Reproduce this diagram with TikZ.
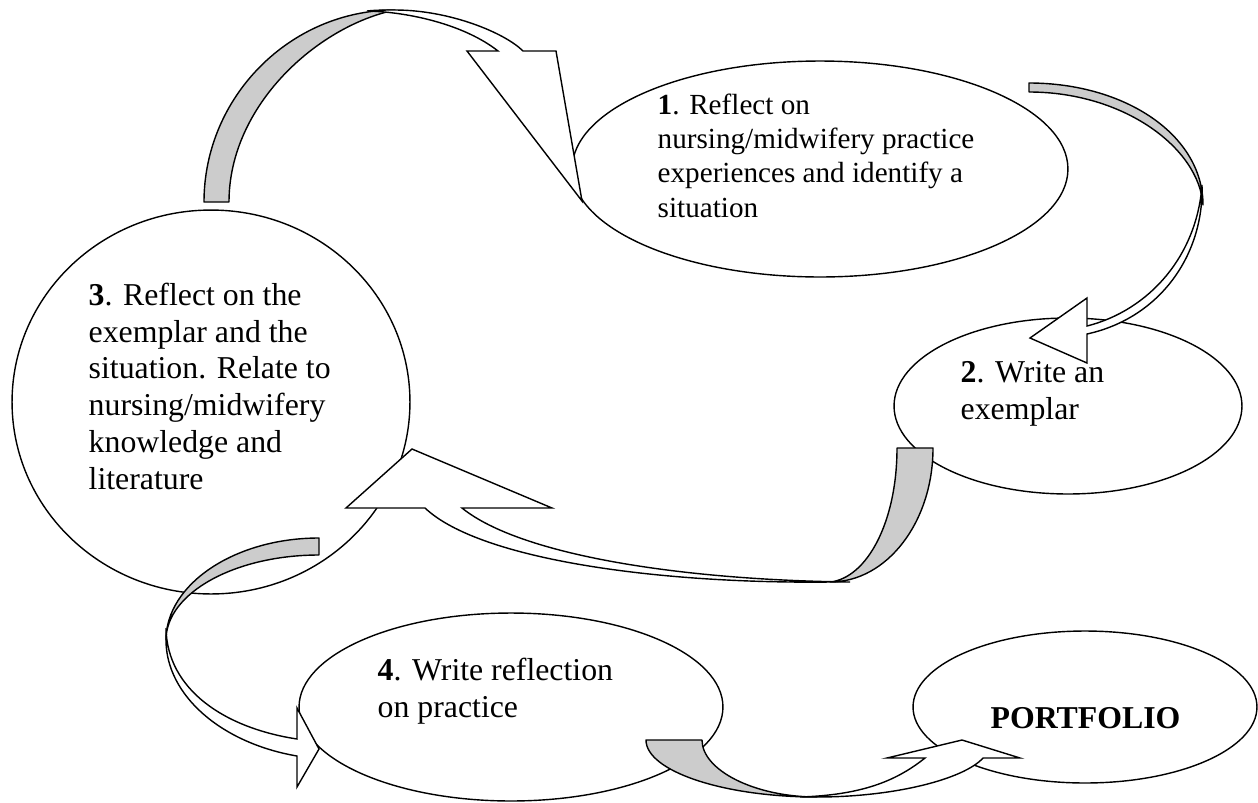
\documentclass[tikz,border=0pt]{standalone}
\usepackage{fontspec}
\setmainfont{Liberation Serif}
\usetikzlibrary{shapes.geometric}
\definecolor{ribbongrey}{HTML}{CCCCCC}

\begin{document}
\begin{tikzpicture}[x=0.02cm, y=-0.02cm, line width=0.8pt,
  stage/.style={ellipse, draw, fill=white, inner sep=0pt},
  stagetext/.style={anchor=base west, align=left, inner sep=0pt, font=\fontsize{18.1}{20.9}\selectfont},
  ribbonback/.style={draw, fill=ribbongrey, line join=round},
  ribbonfront/.style={draw, fill=white}]
\useasboundingbox (0,0) rectangle (1258,802);

% the five stages
\node[stage, minimum width=9.92cm, minimum height=4.32cm] (s1) at (820,169) {};
\node[stage, minimum width=6.96cm, minimum height=3.52cm] (s2) at (1068,406) {};
\node[stage, minimum width=7.96cm, minimum height=7.68cm] (s3) at (211,402) {};
\node[stage, minimum width=8.48cm, minimum height=3.76cm] (s4) at (511,707) {};
\node[stage, minimum width=6.88cm, minimum height=3.04cm] (s5) at (1085,707) {};

% arrow tips
\coordinate (tipA) at (582,201);
\coordinate (tipB) at (1030,338);
\coordinate (tipC) at (412,449);
\coordinate (tipD) at (319,749);
\coordinate (tipE) at (962,740);

% 3 -> 1
\draw[ribbonback] (204,202) .. controls (204,97) and (290,10) .. (395,10)
  .. controls (318,26) and (229,105) .. (229,202) -- cycle;
\draw[ribbonfront] (367,11) .. controls (376,10) and (386,10) .. (395,10)
  .. controls (450,10) and (505,33) .. (523,51) -- (556,51) -- (tipA) -- (467,51) -- (498,51)
  .. controls (465,25) and (410,12) .. (367,11) -- cycle;

% 1 -> 2
\draw[ribbonback] (1029,83) .. controls (1125,83) and (1203,135) .. (1203,205)
  .. controls (1199,148) and (1124,92) .. (1029,92) -- cycle;
\draw[ribbonfront] (1202,185) .. controls (1204,255) and (1160,318) .. (1087,334)
  -- (1087,363) -- (tipB) -- (1087,298) -- (1087,326)
  .. controls (1150,310) and (1197,255) .. (1202,185) -- cycle;

% 2 -> 3
\draw[ribbonback] (933,448) .. controls (933,522) and (887,582) .. (830,582)
  .. controls (867,578) and (897,522) .. (897,448) -- cycle;
\draw[ribbonfront] (850,582) -- (830,582) .. controls (660,584) and (480,560) .. (425,508)
  -- (346,508) -- (tipC) -- (552,508) -- (462,508)
  .. controls (520,555) and (680,580) .. (850,582) -- cycle;

% 3 -> 4
\draw[ribbonback] (319,538) .. controls (235,538) and (166,584) .. (166,640)
  .. controls (166,593) and (235,555) .. (319,555) -- cycle;
\draw[ribbonfront] (166,628) -- (166,640) .. controls (166,695) and (221,743) .. (297,756)
  -- (297,787) -- (tipD) -- (297,708) -- (297,739)
  .. controls (225,728) and (167,690) .. (166,628) -- cycle;

% 4 -> portfolio
\draw[ribbonback] (646,740) .. controls (646,771) and (723,797) .. (817,797)
  .. controls (754,797) and (702,770) .. (702,740) -- cycle;
\draw[ribbonfront] (800,797) -- (817,797) .. controls (895,797) and (964,779) .. (983,758)
  -- (1020,758) -- (tipE) -- (887,758) -- (925,758)
  .. controls (895,782) and (860,795) .. (800,797) -- cycle;

% texts (base = last line)
\node[stagetext, font=\fontsize{16.6}{19.4}\selectfont] (t1) at (657,217)
  {\textbf{1}. Reflect on\\nursing/midwifery practice\\experiences and identify a\\situation};
\node[stagetext] (t2) at (960,419) {\textbf{2}. Write an\\exemplar};
\node[stagetext] (t3) at (88,489) {\textbf{3}. Reflect on the\\exemplar and the\\situation. Relate to\\nursing/midwifery\\knowledge and\\literature};
\node[stagetext] (t4) at (377,717) {\textbf{4}. Write reflection\\on practice};
\node[stagetext] (t5) at (990,728) {\textbf{PORTFOLIO}};
\end{tikzpicture}
\end{document}
